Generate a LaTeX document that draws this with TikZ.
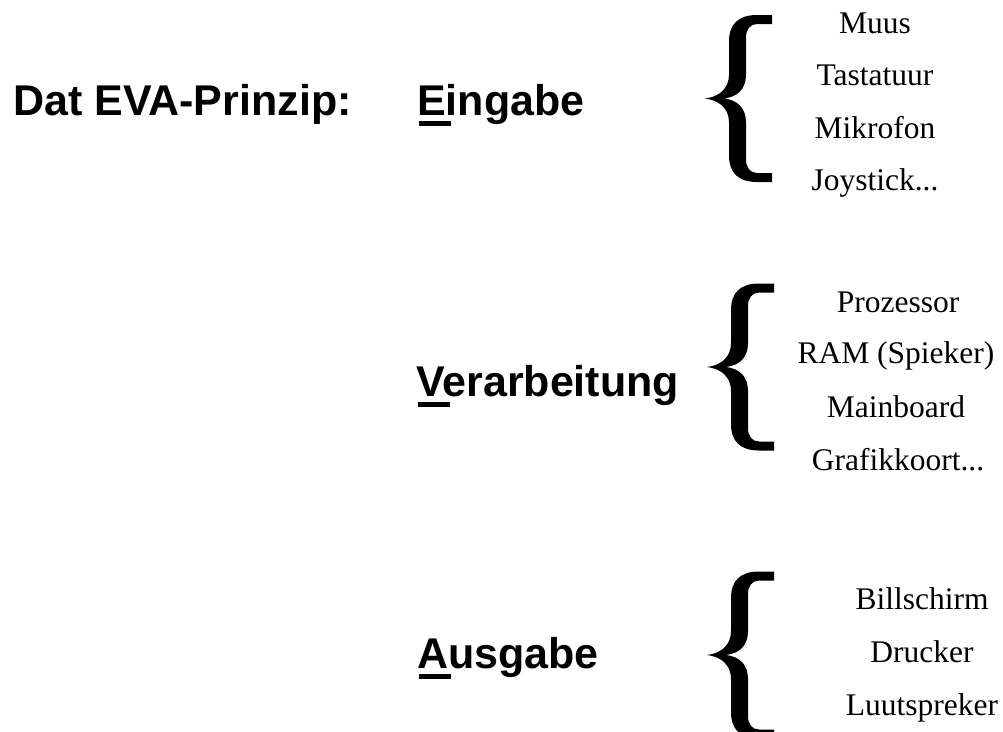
\documentclass[tikz,border=0pt]{standalone}
\usepackage{fontspec}
\setmainfont{Liberation Serif}
\setsansfont{Liberation Sans}
\newcommand\firstul[1]{\rlap{\kern1.5pt\rule[-10.5pt]{32.5pt}{5pt}}#1}
\tikzset{
  bigbrace/.pic={
    \fill[black] (67,83.5) -- (52,83.5) .. controls (33,83.5) and (24,74) .. (24,57)
      -- (24,24) .. controls (24,9) and (13,1.5) .. (0,0)
      .. controls (13,-1.5) and (24,-9) .. (24,-24)
      -- (24,-57) .. controls (24,-74) and (33,-83.5) .. (52,-83.5) -- (67,-83.5)
      -- (67,-74.5) -- (52,-74.5) .. controls (45,-74.5) and (41,-69) .. (41,-61)
      -- (41,-24) .. controls (41,-9) and (32,-1.5) .. (19,0)
      .. controls (32,1.5) and (41,9) .. (41,24)
      -- (41,61) .. controls (41,69) and (45,74.5) .. (52,74.5) -- (67,74.5) -- cycle;
  },
  headtext/.style={inner sep=0pt, anchor=base west, font=\sffamily\bfseries\fontsize{43}{50}\selectfont},
  itemtext/.style={inner sep=0pt, anchor=base, font=\rmfamily\fontsize{31.5}{36}\selectfont}
}
\begin{document}
\begin{tikzpicture}[x=1pt,y=-1pt]
\useasboundingbox (0,0) rectangle (1003,731);
% headings
\node[headtext] (title) at (13,115) {Dat EVA-Prinzip:};
\node[headtext] (eingabe) at (417,115) {\firstul{E}ingabe};
\node[headtext] (verarb) at (416,396) {\firstul{V}erarbeitung};
\node[headtext] (ausgabe) at (417,668) {\firstul{A}usgabe};
% braces
\pic (b1) at (705,98.5) {bigbrace};
\pic (b2) at (707,367) {bigbrace};
\pic (b3) at (707,655) {bigbrace};
% Eingabe list
\node[itemtext] (e1) at (875,33) {Muus};
\node[itemtext] (e2) at (875,85.3) {Tastatuur};
\node[itemtext] (e3) at (875,138) {Mikrofon};
\node[itemtext] (e4) at (875,190) {Joystick...};
% Verarbeitung list
\node[itemtext] (v1) at (898,312) {Prozessor};
\node[itemtext] (v2) at (896,363) {RAM (Spieker)};
\node[itemtext] (v3) at (896,417) {Mainboard};
\node[itemtext] (v4) at (898,470) {Grafikkoort...};
% Ausgabe list
\node[itemtext] (a1) at (922,609) {Billschirm};
\node[itemtext] (a2) at (922,662) {Drucker};
\node[itemtext] (a3) at (922,715) {Luutspreker};
\end{tikzpicture}
\end{document}
